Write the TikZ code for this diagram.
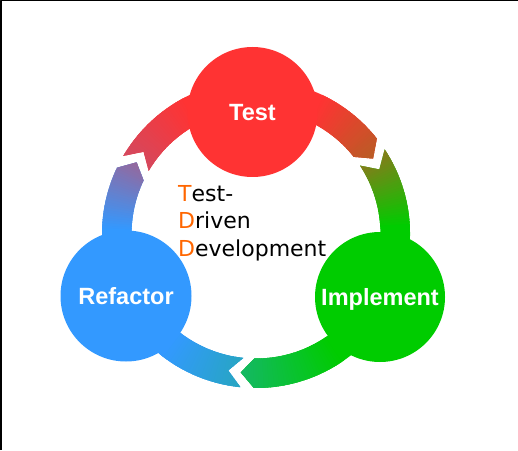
\documentclass[tikz,border=0pt]{standalone}
\usepackage{fontspec}
\newfontfamily\phasefont{Liberation Sans}
\newfontfamily\tddfont{DejaVu Sans}

\definecolor{testred}{RGB}{255,51,51}
\definecolor{implgreen}{RGB}{0,204,0}
\definecolor{refacblue}{RGB}{51,153,255}
\definecolor{tddorange}{RGB}{255,102,0}
\colorlet{tailA}{testred!78!refacblue}
\colorlet{headA}{testred!72!implgreen}
\colorlet{tailB}{testred!55!implgreen}
\colorlet{headB}{implgreen!60!refacblue}
\colorlet{tailC}{refacblue!75!implgreen}
\colorlet{headC}{refacblue!50!testred}

% one arrow of the ring: tail angle, head angle
\newcommand\ringseg[2]{(#1:154) arc[start angle=#1, end angle=#2, radius=154]
  -- (#2-5.5:139.25) -- (#2:124.5) arc[start angle=#2, end angle=#1, radius=124.5]
  -- (#1-5.7:139.25) -- cycle}
% colour wedges from angle #1 (colour #2) to angle #3 (colour #4)
\newcommand\shadearc[4]{%
  \pgfmathtruncatemacro\shn{abs(#1-#3)}%
  \foreach \k in {0,...,\shn}{%
    \pgfmathsetmacro\sha{#1+(#3-#1)*\k/\shn}%
    \pgfmathtruncatemacro\shp{100*\k/\shn}%
    \fill[#4!\shp!#2] (0,0) -- (\sha+0.8:170) -- (\sha-0.8:170) -- cycle;
  }}

\begin{document}
\begin{tikzpicture}[x=1pt, y=1pt, line join=round,
  phase/.style={circle, inner sep=0pt, minimum size=130pt, text=white, text depth=0pt,
    font=\phasefont\bfseries\fontsize{23.5}{28}\selectfont}]
  \useasboundingbox (0,0) rectangle (518,450);

  % Frame
  \draw[line width=1.5pt] (0.75,0) -- (0.75,449.25) -- (518,449.25);

  % Centre of the cycle
  \coordinate (O) at (256,216);

  % Ring arrows
  \begin{scope}[shift={(O)}]
    \begin{scope}
      \clip \ringseg{149.5}{38.3};
      \fill[testred] (0,0) circle (170);
      \shadearc{150}{tailA}{118}{testred}
      \shadearc{64}{testred}{32}{headA}
    \end{scope}
    \begin{scope}
      \clip \ringseg{33.3}{-90.8};
      \fill[implgreen] (0,0) circle (170);
      \shadearc{34}{tailB}{3}{implgreen}
      \shadearc{-56}{implgreen}{-97}{headB}
    \end{scope}
    \begin{scope}
      \clip \ringseg{264.2}{154.5};
      \fill[refacblue] (0,0) circle (170);
      \shadearc{265}{tailC}{232}{refacblue}
      \shadearc{178}{refacblue}{148}{headC}
    \end{scope}
  \end{scope}

  % Phases
  \node[phase, fill=testred] (test) at (252.5,338) {Test};
  \node[phase, fill=implgreen] (impl) at (380,153) {Implement};
  \node[phase, fill=refacblue, minimum size=131pt] (refac) at (126,154) {Refactor};

  % Title
  \node[anchor=north west, inner sep=0pt, align=left,
    font=\tddfont\fontsize{22}{27.5}\selectfont] (tdd) at (178,265)
    {\textcolor{tddorange}{T}est-\\\textcolor{tddorange}{D}riven\\\textcolor{tddorange}{D}evelopment};
\end{tikzpicture}
\end{document}
